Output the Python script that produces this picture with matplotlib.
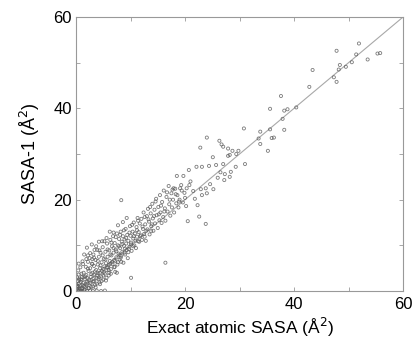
import matplotlib
matplotlib.use('Agg')
import matplotlib.pyplot as plt
import numpy as np

plt.rcParams['font.family'] = ['Liberation Sans', 'DejaVu Sans']

# DATA
exact_sasa = [
    0.1, 0.2, 0.1, 0.3, 0.2, 0.5, 0.4, 0.3, 0.6, 0.9, 1.2, 1.5, 2.0, 2.6, 3.1, 3.8, 4.6, 5.3,
    0.7, 0.9, 1.0, 0.8, 0.5, 1.1, 1.3, 1.4, 1.6, 1.7, 1.8, 1.9, 2.1, 2.2, 2.3, 2.4, 2.5, 2.6,
    2.7, 2.8, 2.9, 3.0, 3.1, 3.2, 3.3, 3.4, 3.5, 3.6, 3.7, 3.8, 3.9, 4.0, 4.1, 4.2, 4.3, 4.4,
    4.5, 4.6, 4.7, 4.8, 4.9, 5.0, 5.1, 5.2, 5.3, 5.4, 5.5, 5.6, 5.7, 5.8, 5.9, 6.0, 6.1, 6.2,
    6.3, 6.4, 6.5, 6.6, 6.7, 6.8, 6.9, 7.0, 7.1, 7.2, 7.3, 7.4, 7.5, 7.6, 7.7, 7.8, 7.9, 8.0,
    8.1, 8.2, 8.3, 8.4, 8.5, 8.6, 8.7, 8.8, 8.9, 9.0, 9.1, 9.2, 9.3, 9.4, 9.5, 9.6, 9.8, 9.9,
    10.0, 10.1, 10.2, 10.4, 10.5, 10.6, 10.7, 10.8, 11.0, 11.1, 11.2, 11.3, 11.5, 11.6, 11.7,
    11.9, 12.0, 12.1, 12.3, 12.4, 12.5, 12.7, 12.8, 13.0, 13.1, 13.2, 13.4, 13.5, 13.7, 13.8,
    14.0, 14.1, 14.2, 14.4, 14.5, 14.7, 14.8, 15.0, 15.1, 15.3, 15.4, 15.5, 15.7, 15.8, 16.0,
    16.1, 16.3, 16.4, 16.6, 16.8, 17.0, 17.1, 17.3, 17.5, 17.6, 17.8, 18.0, 18.2, 18.4, 18.6,
    18.8, 19.0, 19.3, 19.6, 19.9, 20.2,
    0.4, 0.6, 1.1, 1.4, 1.9, 2.3, 2.7, 3.3, 3.6, 4.1, 4.4, 5.0, 5.5, 6.0, 6.4, 7.0, 7.5, 8.3,
    1.5, 2.0, 2.9, 3.4, 4.2, 1.2, 2.2, 3.0, 4.8, 5.6, 6.2, 6.9, 7.7, 8.6, 9.3,
    8.3, 16.4, 10.1, 23.8, 20.5, 22.6, 18.5, 19.7, 20.7, 22.1, 23.1, 24.4, 25.7, 27.0,
    17.9, 19.1, 20.3, 22.9, 23.8, 25.2, 23.1, 24.0, 22.3, 27.2, 28.2, 27.3, 28.4, 29.3, 31.0,
    21.0, 21.8, 24.6, 26.0, 26.5,
    47.8, 51.9, 51.4, 55.8, 55.3, 53.5, 48.4, 48.2, 49.5, 50.6, 43.4, 47.3, 47.8, 42.8,
    37.6, 35.6, 38.2, 38.8, 40.4, 37.9, 30.8, 33.8, 35.6, 38.2, 24.0, 26.3, 26.7, 27.0,
    33.5, 33.8, 35.2, 35.9, 36.3, 22.8, 25.1, 27.9, 28.7, 29.8, 27.9, 28.2, 29.4,
    0.3, 0.6, 0.8, 1.0, 1.2, 1.3, 1.6, 1.7, 1.9, 2.1, 2.2, 2.4, 2.6, 2.8, 3.0, 3.1, 3.3, 3.5,
    3.7, 3.8, 4.0, 4.2, 4.3, 4.5, 4.7, 4.9, 5.1, 5.2, 5.4, 5.6, 5.8, 6.0, 6.1, 6.3, 6.5, 6.6,
    6.9, 7.1, 7.3, 7.4, 7.7, 7.9, 8.1, 8.2, 8.5, 8.8, 9.0, 9.2, 9.6, 9.8, 10.1, 10.3, 10.6,
    10.9, 11.2, 11.4, 11.8, 12.2, 12.6, 12.9, 13.3, 13.6, 13.9, 14.3, 14.6, 15.2, 15.6, 16.2,
    16.7, 17.2, 17.7, 18.3, 18.9, 19.4, 20.0, 20.8, 21.5, 0.2, 0.5, 0.9, 1.5, 2.0, 2.5, 3.2,
    3.9, 4.4, 5.0, 5.7, 6.3, 7.2, 8.0, 8.9, 9.7, 10.5, 11.4, 12.6, 13.8,
]
sasa1 = [
    0.2, 0.8, 1.5, 2.2, 3.0, 3.6, 4.5, 0.1, 0.0, 0.1, 0.0, 0.1, 0.0, 0.1, 0.0, 0.1, 0.0, 0.1,
    1.2, 2.0, 0.6, 5.2, 6.0, 3.1, 1.8, 4.0, 2.6, 0.9, 5.3, 3.5, 1.6, 6.4, 4.4, 2.5, 7.2, 5.0,
    3.1, 0.9, 6.0, 4.0, 2.1, 8.0, 5.5, 3.5, 1.4, 6.8, 4.6, 2.8, 9.0, 5.8, 3.9, 7.5, 1.9, 5.0,
    8.4, 3.2, 6.3, 4.4, 9.6, 2.5, 7.0, 5.4, 3.8, 8.6, 6.1, 4.6, 10.4, 7.5, 5.3, 3.4, 8.9, 6.6,
    11.2, 4.8, 7.8, 9.8, 5.9, 12.0, 8.4, 6.8, 10.5, 4.2, 9.1, 7.4, 12.6, 5.8, 10.0, 8.2, 11.4, 6.9,
    9.4, 13.0, 7.7, 10.8, 8.6, 12.0, 6.2, 9.9, 11.3, 8.0, 13.6, 10.4, 9.0, 12.3, 7.2, 11.0, 9.7, 14.2,
    12.1, 10.6, 8.8, 13.0, 11.5, 15.0, 10.0, 12.6, 9.4, 14.0, 11.9, 16.0, 12.9, 10.8, 14.8,
    12.2, 15.8, 11.2, 13.6, 17.2, 12.5, 14.6, 11.0, 16.4, 13.5, 18.0, 15.2, 12.4, 17.0, 14.2,
    19.1, 15.9, 13.2, 17.8, 14.8, 20.2, 16.6, 13.8, 18.4, 15.5, 21.0, 17.2, 14.9, 19.5, 16.2,
    22.0, 18.1, 15.4, 20.6, 17.4, 23.0, 19.0, 16.5, 21.4, 18.3, 20.0, 17.2, 22.4, 19.2, 21.0,
    18.3, 20.0, 23.2, 19.4, 21.5, 18.6,
    1.0, 2.4, 0.5, 3.0, 1.2, 0.6, 1.8, 2.2, 0.8, 2.6, 1.5, 3.4, 2.3, 4.6, 3.8, 5.2, 4.0, 6.4,
    8.0, 9.5, 10.2, 9.0, 10.8, 6.5, 7.8, 7.0, 10.9, 11.6, 13.0, 12.8, 14.4, 15.1, 16.0,
    19.9, 6.2, 2.9, 14.7, 15.3, 16.3, 25.2, 25.2, 26.5, 27.2, 27.2, 27.4, 27.6, 27.8,
    22.5, 22.5, 22.5, 22.3, 22.5, 22.3, 21.0, 21.4, 18.8, 24.3, 25.0, 25.6, 26.1, 27.2, 27.8,
    24.0, 20.2, 23.4, 24.8, 26.0,
    52.6, 54.2, 51.8, 52.1, 52.0, 50.7, 49.5, 48.5, 49.1, 50.1, 48.4, 46.8, 45.8, 44.7,
    42.7, 39.9, 39.5, 39.8, 40.2, 37.7, 35.6, 34.9, 35.4, 35.3, 33.6, 32.9, 32.1, 31.6,
    33.4, 32.2, 30.7, 33.5, 33.6, 31.4, 29.3, 31.2, 30.7, 30.7, 29.6, 29.8, 30.0,
    1.1, 2.7, 0.4, 3.8, 1.3, 5.9, 0.3, 3.2, 7.0, 2.8, 4.9, 0.7, 8.3, 3.7, 5.9, 1.0, 7.3, 4.3,
    9.8, 1.6, 6.6, 3.0, 8.9, 5.6, 2.2, 7.8, 4.1, 10.9, 6.9, 2.9, 9.1, 5.7, 4.0, 8.0, 10.6, 6.3,
    9.4, 5.3, 11.8, 8.7, 6.3, 9.8, 12.3, 7.3, 10.3, 13.3, 9.3, 11.6, 8.5, 12.8, 10.2, 14.5, 12.0,
    11.0, 13.3, 15.4, 12.0, 14.1, 16.2, 13.2, 15.7, 18.4, 14.6, 16.4, 19.6, 16.8, 18.7, 17.4,
    21.6, 20.0, 22.2, 21.2, 19.6, 22.0, 20.4, 23.2, 21.9, 0.5, 1.6, 2.5, 1.1, 2.0, 1.7, 2.6,
    3.4, 4.0, 4.8, 5.1, 6.0, 6.6, 7.9, 8.4, 9.2, 9.8, 10.9, 11.9, 13.1,
]
diag = [0, 60]

# FIGURE
fig = plt.figure(figsize=(4.13, 3.40), dpi=100)
ax = fig.add_axes([0.184, 0.144, 0.792, 0.806])

ax.plot(diag, diag, color='#a8a8a8', lw=0.8, zorder=1)
ax.scatter(exact_sasa, sasa1, s=5, facecolors='none', edgecolors='#5a5a5a',
           linewidths=0.6, alpha=0.8, zorder=2)

ax.set_xlim(0, 60)
ax.set_ylim(0, 60)
ticks = np.arange(0, 61, 10)
labels = ['0', '', '20', '', '40', '', '60']
ax.set_xticks(ticks, labels)
ax.set_yticks(ticks, labels)
ax.tick_params(direction='in', length=3, width=0.6, color='#999999',
               top=True, right=True, labelsize=12, pad=3)
ax.tick_params(axis='x', pad=4)
for s in ax.spines.values():
    s.set_color('#999999')
    s.set_linewidth(0.8)

ax.set_xlabel('Exact atomic SASA (Å$^2$)', fontsize=12.5, labelpad=3)
ax.set_ylabel('SASA-1 (Å$^2$)', fontsize=13, labelpad=8)

fig.savefig('out.png', dpi=100)
